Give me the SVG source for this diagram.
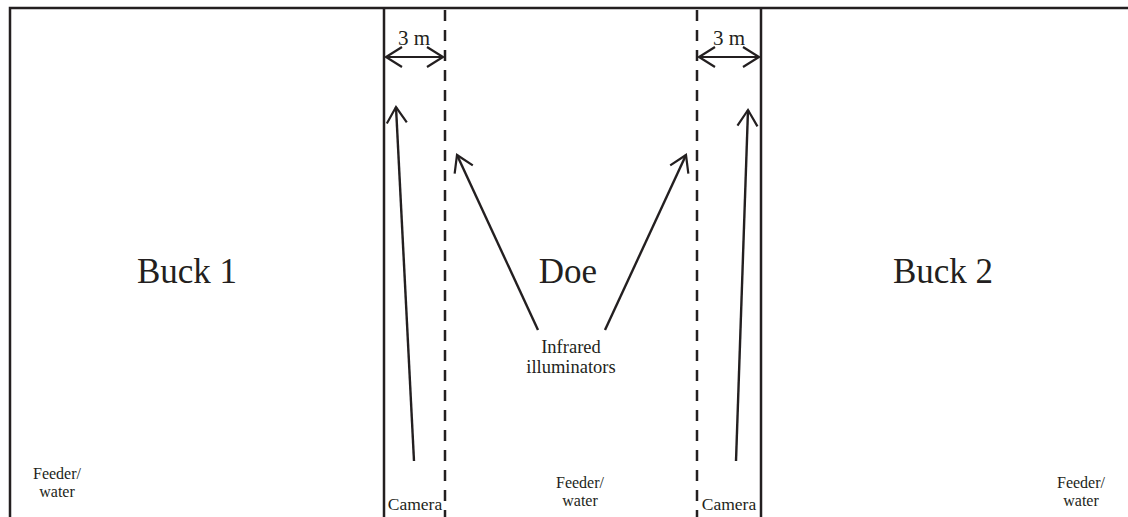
<svg xmlns="http://www.w3.org/2000/svg" width="1128" height="517" viewBox="0 0 1128 517">
<style>
.wall{stroke:#231f20;stroke-width:2.5;fill:none}
.dash{stroke:#231f20;stroke-width:2.5;fill:none;stroke-dasharray:11 9}
.arr{stroke:#231f20;stroke-width:2.4;fill:none;marker-end:url(#open)}
.dim{stroke:#231f20;stroke-width:2.2;fill:none;marker-start:url(#open2);marker-end:url(#open2)}
text{font-family:"Liberation Serif",serif;fill:#231f20;text-anchor:middle}
.big{font-size:35px}
.sm{font-size:16px}
.ir{font-size:18.5px}
.cam{font-size:17.5px}
.dm{font-size:21px}
</style>
<defs>
<marker id="open" viewBox="0 0 20 20" refX="16" refY="10" markerWidth="20" markerHeight="20" markerUnits="userSpaceOnUse" orient="auto" overflow="visible">
<path d="M0,0 L16,10 L0,20" fill="none" stroke="#231f20" stroke-width="2.2"/>
</marker>
<marker id="open2" viewBox="0 0 20 20" refX="16" refY="10" markerWidth="20" markerHeight="20" markerUnits="userSpaceOnUse" orient="auto-start-reverse" overflow="visible">
<path d="M0,0 L16,10 L0,20" fill="none" stroke="#231f20" stroke-width="2.2"/>
</marker>
</defs>
<g id="walls">
<path class="wall" d="M10,517 V8 H1128"/>
<line class="wall" x1="384" y1="8" x2="384" y2="517"/>
<line class="wall" x1="761" y1="8" x2="761" y2="517"/>
<line class="dash" x1="445" y1="10" x2="445" y2="517"/>
<line class="dash" x1="697" y1="10" x2="697" y2="517"/>
</g>
<g id="buck1"><text class="big" x="187" y="283">Buck 1</text></g>
<g id="doe"><text class="big" x="568" y="283">Doe</text></g>
<g id="buck2"><text class="big" x="943" y="283">Buck 2</text></g>
<g id="dim-left"><text class="dm" x="414" y="45">3 m</text></g>
<g id="dim-right"><text class="dm" x="729" y="45">3 m</text></g>
<g id="infrared"><text class="ir" x="571" y="353">Infrared</text><text class="ir" x="571" y="373">illuminators</text></g>
<g id="feeder1"><text class="sm" x="57" y="479">Feeder/</text><text class="sm" x="57" y="497">water</text></g>
<g id="feeder2"><text class="sm" x="580" y="488">Feeder/</text><text class="sm" x="580" y="506">water</text></g>
<g id="feeder3"><text class="sm" x="1081" y="488">Feeder/</text><text class="sm" x="1081" y="506">water</text></g>
<g id="camera1"><text class="cam" x="415" y="510">Camera</text></g>
<g id="camera2"><text class="cam" x="729" y="510">Camera</text></g>
<g id="connectors">
<line class="dim" x1="386" y1="57" x2="443" y2="57"/>
<line class="dim" x1="699" y1="57" x2="759" y2="57"/>
<line class="arr" x1="414" y1="461" x2="396" y2="107"/>
<line class="arr" x1="736" y1="461" x2="748" y2="110"/>
<line class="arr" x1="538" y1="330" x2="457" y2="155"/>
<line class="arr" x1="605" y1="330" x2="686" y2="155"/>
</g>
</svg>
